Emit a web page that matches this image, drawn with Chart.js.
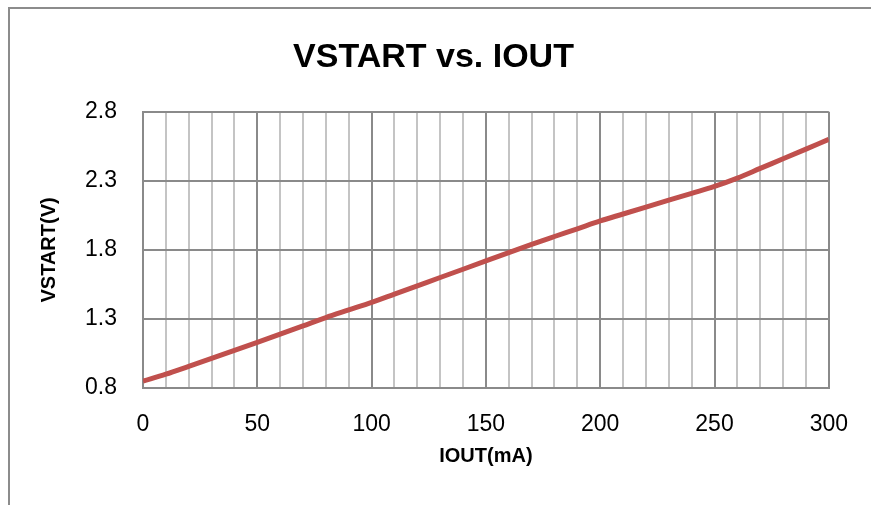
<!DOCTYPE html>
<html>
<head>
<meta charset="utf-8">
<script src="https://cdn.jsdelivr.net/npm/chart.js@4"></script>
<style>
  html, body { margin: 0; padding: 0; background: #fff; }
  #wrap {
    position: absolute; left: 0; top: 0; width: 871px; height: 505px;
  }
  #frame {
    position: absolute; left: 8px; top: 7px; right: -2px; bottom: -2px;
    border-left: 2px solid #8c8c8c; border-top: 2px solid #8c8c8c;
  }
  canvas { position: absolute; left: 0; top: 0; }
</style>
</head>
<body>
<div id="wrap">
  <div id="frame"></div>
  <canvas id="chart" width="871" height="505"></canvas>
</div>
<script>
// values
const iout = [0, 10, 20, 30, 40, 50, 60, 70, 80, 90, 100, 110, 120, 130, 140, 150,
              160, 170, 180, 190, 200, 210, 220, 230, 240, 250, 260, 270, 280, 290, 300];
const vstart = [0.85, 0.90, 0.957, 1.015, 1.072, 1.13, 1.19, 1.25, 1.31, 1.365, 1.42, 1.48,
                1.54, 1.60, 1.66, 1.72, 1.78, 1.84, 1.897, 1.953, 2.01, 2.06, 2.11, 2.16,
                2.21, 2.26, 2.32, 2.39, 2.46, 2.53, 2.60];
const yTicks = [0.8, 1.3, 1.8, 2.3, 2.8];

const fontFamily = '"Liberation Sans", Arial, sans-serif';
const majorGrid = '#8a8a8a';
const minorGrid = '#c4c4c4';

const ctx = document.getElementById('chart').getContext('2d');
new Chart(ctx, {
    type: 'line',
    data: {
        datasets: [{
            label: 'VSTART',
            data: iout.map((x, i) => ({ x: x, y: vstart[i] })),
            borderColor: '#c0504d',
            borderWidth: 5,
            pointRadius: 0,
            cubicInterpolationMode: 'monotone',
            fill: false
        }]
    },
    options: {
        responsive: false,
        animation: false,
        layout: { padding: { left: 37, right: 41, top: 0, bottom: 37 } },
        scales: {
            x: {
                type: 'linear',
                min: 0,
                max: 300,
                afterFit: (scale) => { scale.height = 80; },
                ticks: {
                    stepSize: 10,
                    autoSkip: false,
                    maxRotation: 0,
                    padding: 23,
                    color: '#000',
                    font: { family: fontFamily, size: 23 },
                    callback: (v) => (v % 50 === 0 ? v : '')
                },
                grid: {
                    drawTicks: false,
                    lineWidth: 2,
                    color: (c) => (c.tick && c.tick.value % 50 === 0 ? majorGrid : minorGrid)
                },
                border: { color: majorGrid, width: 2 },
                title: {
                    display: true,
                    text: 'IOUT(mA)',
                    color: '#000',
                    font: { family: fontFamily, size: 20, weight: 'bold' },
                    padding: { top: 4, bottom: 0 }
                }
            },
            y: {
                min: 0.8,
                max: 2.8,
                afterFit: (scale) => { scale.width = 106; },
                afterBuildTicks: (scale) => { scale.ticks = yTicks.map(v => ({ value: v })); },
                ticks: {
                    padding: 26,
                    color: '#000',
                    font: { family: fontFamily, size: 23 },
                    callback: (v) => v.toFixed(1)
                },
                grid: { drawTicks: false, lineWidth: 2, color: majorGrid },
                border: { color: majorGrid, width: 2 },
                title: {
                    display: true,
                    text: 'VSTART(V)',
                    color: '#000',
                    font: { family: fontFamily, size: 20, weight: 'bold' },
                    padding: { top: 0, bottom: 0 }
                }
            }
        },
        plugins: {
            legend: { display: false },
            tooltip: { enabled: false },
            title: {
                display: true,
                text: 'VSTART vs. IOUT',
                color: '#000',
                font: { family: fontFamily, size: 34, weight: 'bold' },
                padding: { top: 37, bottom: 34 }
            }
        }
    }
});
</script>
</body>
</html>
